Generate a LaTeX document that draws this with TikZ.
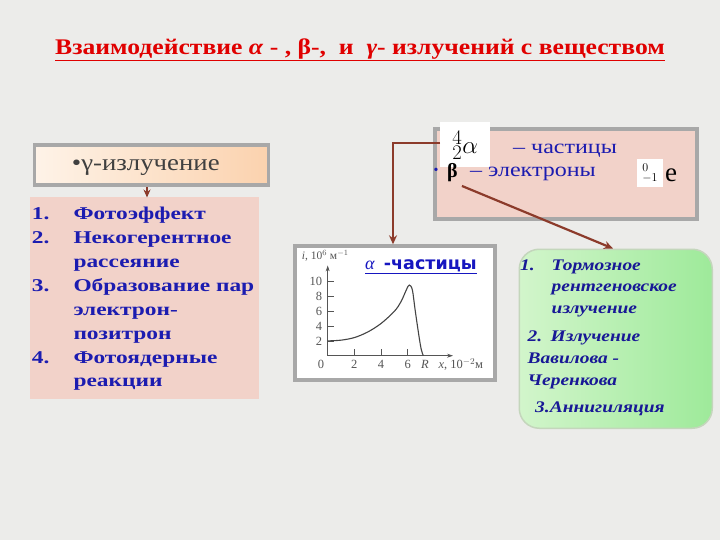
\documentclass[tikz,border=0pt]{standalone}
\usepackage{fontspec}
\setmainfont{Liberation Serif}
\newfontfamily\titlefont[FakeStretch=1.15]{Liberation Serif}
\newfontfamily\listfont[FakeStretch=1.3]{Liberation Serif}
\newfontfamily\greenfont[FakeStretch=1.2]{Liberation Serif}
\newfontfamily\boxfont[FakeStretch=1.2]{Liberation Serif}
\newfontfamily\chartsans{DejaVu Sans}
\usetikzlibrary{arrows.meta,calc}
\definecolor{bgc}{HTML}{ECECEA}
\definecolor{titlered}{HTML}{E00000}
\definecolor{txtblue}{HTML}{1C1CB0}
\definecolor{pinkfill}{HTML}{F2D2C9}
\definecolor{arrowc}{HTML}{8C3B2B}
\definecolor{grayline}{HTML}{A8A8A8}
\definecolor{greenL}{HTML}{D2F5CB}
\definecolor{greenR}{HTML}{9EEA9A}
\definecolor{greenB}{HTML}{C4D6BC}
\definecolor{peachL}{HTML}{FEF3E8}
\definecolor{peachR}{HTML}{FBD2AE}
\definecolor{axisc}{HTML}{555555}
\tikzset{
  conn/.style={draw=arrowc, line width=2.2pt, -{Stealth[length=9pt,width=8pt]}},
  txt/.style={inner sep=0pt, anchor=base west},
  listtxt/.style={txt, font=\listfont\bfseries\fontsize{18}{20}\selectfont, text=txtblue},
  greentxt/.style={txt, font=\greenfont\bfseries\itshape\fontsize{16.2}{19}\selectfont, text=txtblue!85!black},
  tick/.style={inner sep=0pt, font=\fontsize{12.5}{14}\selectfont, text=axisc},
}
\begin{document}
\begin{tikzpicture}[x=1pt,y=-1pt]
\useasboundingbox (0,0) rectangle (720,540);
\fill[bgc] (0,0) rectangle (720,540);

% title
\node[inner sep=0pt, text=titlered] (title) at (360,50)
  {\titlefont\bfseries\fontsize{22.3}{24}\selectfont\underline{Взаимодействие \textit{α} - , β-,\ \ и\ \ \textit{γ}- излучений с веществом}};

% gamma box
\node[draw=grayline, line width=3.5pt, left color=peachL, right color=peachR,
      minimum width=234pt, minimum height=40pt, inner sep=0pt, anchor=north west] (gam) at (32.7,143.3) {};
\node[txt, font=\titlefont\fontsize{23.3}{24}\selectfont, text=black!75] (gamtxt) at (71.7,170.5) {•γ-излучение};

% list box
\node[fill=pinkfill, minimum width=228.3pt, minimum height=201.6pt, inner sep=0pt, anchor=north west] (list) at (30,196.7) {};
\draw[conn, line width=1.5pt, -{Stealth[length=8pt,width=7pt]}] (gam.south -| 147,0) -- (147,197.5) coordinate (listtop);

\node[listtxt] (n1) at (31.7,220) {1.};
\node[listtxt] (t1) at (73.3,220) {Фотоэффект};
\node[listtxt] (n2) at (31.7,243.3) {2.};
\node[listtxt] (t2) at (73.3,243.3) {Некогерентное};
\node[listtxt] (t2b) at (73.3,267.5) {рассеяние};
\node[listtxt] (n3) at (31.7,291.5) {3.};
\node[listtxt] (t3) at (73.3,291.5) {Образование пар};
\node[listtxt] (t3b) at (73.3,315.3) {электрон-};
\node[listtxt] (t3c) at (73.3,339.2) {позитрон};
\node[listtxt] (n4) at (31.7,363.2) {4.};
\node[listtxt] (t4) at (73.3,363.2) {Фотоядерные};
\node[listtxt] (t4b) at (73.3,386.8) {реакции};

% top right box
\node[draw=grayline, line width=4pt, fill=pinkfill, minimum width=262pt, minimum height=90pt,
      inner sep=0pt, anchor=north west] (ab) at (432.7,127.3) {};
\node[fill=white, minimum width=50pt, minimum height=45pt, inner sep=0pt, anchor=north west,
      font=\fontsize{30}{32}\selectfont] (alpha) at (440,122.3) {${}^{4}_{2}\alpha$};
\node[txt, font=\boxfont\fontsize{20}{22}\selectfont, text=txtblue] (chast) at (513,153.3) {– частицы};
\node[inner sep=0pt, text=txtblue, font=\fontsize{14}{14}\selectfont] (bul) at (436,171.7) {•};
\node[txt, font=\bfseries\fontsize{20}{20}\selectfont] (beta) at (447,177.5) {β};
\node[txt, font=\boxfont\fontsize{20}{22}\selectfont, text=txtblue] (elec) at (470,176.7) {– электроны};
\node[fill=white, minimum width=26pt, minimum height=28pt, inner sep=0pt, anchor=north west,
      font=\fontsize{17}{18}\selectfont] (ebox) at (637,159) {${}^{0}_{-1}$};
\node[txt, font=\fontsize{27}{28}\selectfont] (e) at (665,181.7) {e};

% chart box
\node[draw=grayline, line width=4pt, fill=white, minimum width=200pt, minimum height=134pt,
      inner sep=0pt, anchor=north west] (chart) at (293.3,244.3) {};
\node[txt, text=txtblue!80!blue] (charttitle) at (365,269.3)
  {\underline{\fontsize{18}{18}\selectfont\textit{α}\ \ {\chartsans\bfseries\fontsize{17.5}{18}\selectfont -частицы}}};

% plot
\begin{scope}[shift={(327.7,355.7)}, x=13.33pt, y=7.4pt]
  \draw[axisc, line width=0.7pt, -{Stealth[length=6pt,width=4pt]}] (0,0) coordinate (orig) -- (0,12.2) coordinate (ytip);
  \draw[axisc, line width=0.7pt, -{Stealth[length=6pt,width=4pt]}] (0,0) -- (9.4,0) coordinate (xtip);
  \foreach \v in {2,4,6,8,10} {
    \draw[axisc, line width=0.7pt] (0,\v) -- (0.45,\v);
    \node[tick, anchor=east] (yl\v) at (-0.4,\v) {\v};
  }
  \foreach \v in {2,4,6} {
    \draw[axisc, line width=0.7pt] (\v,0) -- (\v,0.9);
    \node[tick, anchor=base] (xl\v) at (\v,-1.75) {\v};
  }
  \node[tick, anchor=base] (xl0) at (-0.5,-1.75) {0};
  \node[tick, anchor=base] (xlR) at (7.3,-1.75) {\textit{R}};
  \node[tick, anchor=base west] (xlab) at (8.3,-1.75) {\textit{x}, 10$^{-2}$м};
  \node[tick, anchor=base west, font=\fontsize{11.5}{12}\selectfont] (ylab) at (-1.95,13.0) {\textit{i}, 10$^{6}$ м$^{-1}$};
  \draw[axisc!80!black, line width=1.1pt] plot[smooth, tension=0.55] coordinates {
    (0,2) (1,2.1) (2,2.45) (3,3.2) (4,4.35) (5,6.0) (5.5,7.3) (5.9,8.9) (6.12,9.55) (6.35,8.9) (6.55,6.3) (6.8,3.2) (7.0,1.0) (7.17,0)};
\end{scope}

% green box
\node[draw=greenB, line width=1.5pt, rounded corners=20pt, left color=greenL, right color=greenR,
      minimum width=193pt, minimum height=179pt, inner sep=0pt, anchor=north west] (green) at (518.5,248.5) {};
\node[greentxt] (g1n) at (520,270) {1.};
\node[greentxt] (g1) at (551.5,270) {Тормозное};
\node[greentxt] (g1b) at (551.5,291.7) {рентгеновское};
\node[greentxt] (g1c) at (551.5,313.3) {излучение};
\node[greentxt] (g2n) at (527.5,341.7) {2.};
\node[greentxt] (g2) at (550.5,341.7) {Излучение};
\node[greentxt] (g2b) at (527.5,363.3) {Вавилова -};
\node[greentxt] (g2c) at (527.5,385) {Черенкова};
\node[greentxt] (g3) at (535,412.5) {3.Аннигиляция};

% connectors
\draw[conn] (alpha.west |- 0,143.3) -- (393,143.3) -- (chart.north -| 393,0);
\draw[conn] ($(beta.south east)+(4,4)$) -- (green.north -| 613,0);
\end{tikzpicture}
\end{document}
